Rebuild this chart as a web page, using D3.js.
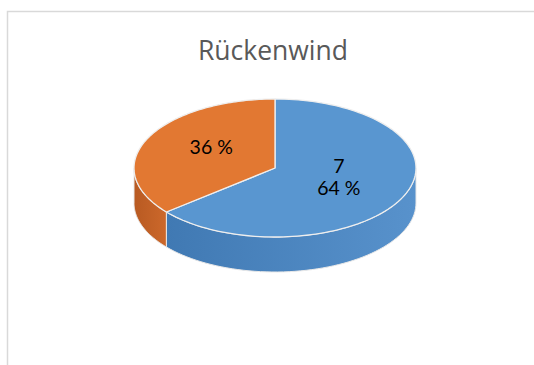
<!DOCTYPE html>
<html><head><meta charset="utf-8">
<script src="https://cdn.jsdelivr.net/npm/d3@7"></script>
<style>html,body{margin:0;padding:0;background:#fff;overflow:hidden}svg{display:block}</style>
</head><body>
<script>
const title = "Rückenwind";
const categories = ["7", ""];
const values = [64, 36];
const topColors = ["#5996d0", "#e27832"];
const sideColors = [["#4079b3", "#5892cc"], ["#b85a22", "#cc682b"]];

const W = 534, H = 365;
const svg = d3.select("body").append("svg").attr("width", W).attr("height", H);
const defs = svg.append("defs");

// chart frame (top and left edges visible; the rest is outside the picture)
svg.append("path").attr("d", "M7.5,365 V11.5 H534")
  .attr("fill", "none").attr("stroke", "#d9d9d9").attr("stroke-width", 1.5);

svg.append("text").attr("x", 273).attr("y", 60).attr("text-anchor", "middle")
  .attr("font-family", "'Open Sans', sans-serif").attr("font-size", 26.5)
  .attr("fill", "#595959").text(title);

const cx = 275, cy = 168, rx = 141, ry = 69, depth = 35;
const pt = (a, dy = 0) => [cx + rx * Math.sin(a), cy - ry * Math.cos(a) + dy];

const pie = d3.pie().sort(null).value(d => d)(values);

// side gradients
sideColors.forEach((c, i) => {
  const g = defs.append("linearGradient").attr("id", "side" + i)
    .attr("x1", "0%").attr("x2", "100%").attr("y1", "0%").attr("y2", "0%");
  g.append("stop").attr("offset", "0%").attr("stop-color", c[0]);
  g.append("stop").attr("offset", "100%").attr("stop-color", c[1]);
});

const line = d3.line();
const sideG = svg.append("g");
pie.forEach((p, i) => {
  const a1 = Math.max(p.startAngle, Math.PI / 2);
  const a2 = Math.min(p.endAngle, 3 * Math.PI / 2);
  if (a2 <= a1) return;
  const n = 60, ptsTop = [], ptsBot = [];
  for (let k = 0; k <= n; k++) {
    const a = a1 + (a2 - a1) * k / n;
    ptsTop.push(pt(a));
    ptsBot.push(pt(a, depth));
  }
  sideG.append("path").attr("d", line(ptsTop.concat(ptsBot.reverse())) + "Z")
    .attr("fill", `url(#side${i})`).attr("stroke", "#e8e8e8").attr("stroke-width", 1)
    .attr("stroke-linejoin", "round");
});

// top faces
const topG = svg.append("g");
pie.forEach((p, i) => {
  const n = 120, pts = [[cx, cy]];
  for (let k = 0; k <= n; k++) pts.push(pt(p.startAngle + (p.endAngle - p.startAngle) * k / n));
  topG.append("path").attr("d", line(pts) + "Z")
    .attr("fill", topColors[i]).attr("stroke", "#eeeeee").attr("stroke-width", 1.3)
    .attr("stroke-linejoin", "round");
});

// labels
const fmt = d => d3.format(".0f")(d) + " %";
const total = d3.sum(values);
pie.forEach((p, i) => {
  const mid = (p.startAngle + p.endAngle) / 2;
  const [lx, ly] = [cx + rx * 0.5 * Math.sin(mid), cy - ry * 0.5 * Math.cos(mid)];
  const lines = [];
  if (categories[i]) lines.push(categories[i]);
  lines.push(fmt(values[i] / total * 100));
  const lh = 22;
  lines.forEach((s, j) => {
    svg.append("text").attr("text-anchor", "middle")
      .attr("font-family", "Lato, 'Open Sans', sans-serif").attr("font-size", 19.5).attr("fill", "#000")
      .attr("x", lx).attr("y", ly + (j - (lines.length - 1) / 2) * lh + 1).text(s);
  });
});
</script>
</body></html>
